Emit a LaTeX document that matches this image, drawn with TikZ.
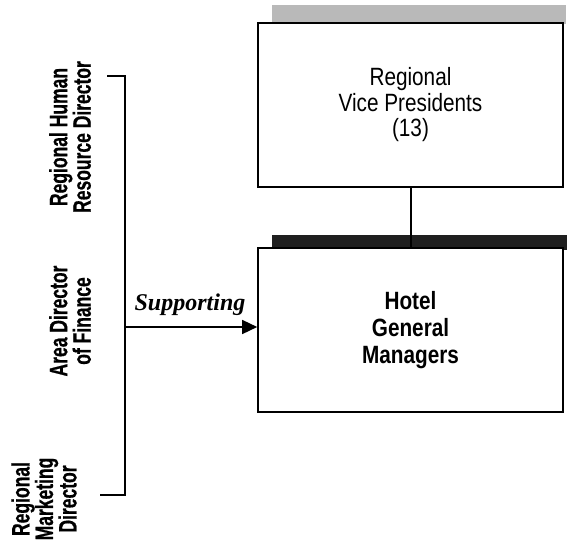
\documentclass[tikz,border=0pt]{standalone}
\usepackage{fontspec}
\setmainfont{Liberation Sans}
\newfontfamily\boxfont[FakeStretch=0.83]{Liberation Sans}
\newfontfamily\labelfont[FakeStretch=0.7,FakeBold=0.6]{Liberation Sans}
\newfontfamily\suppfont{Liberation Serif}
\usepackage{tikz}
\usetikzlibrary{calc}
\usetikzlibrary{arrows.meta}
\tikzset{
  orgbox/.style={draw, line width=1.6pt, fill=white, minimum width=305pt, minimum height=164pt, align=center, font=\boxfont\fontsize{25}{25.5}\selectfont},
  sidelabel/.style={rotate=90, align=center, inner sep=0, font=\labelfont\bfseries\fontsize{25}{23.5}\selectfont},
}

\begin{document}
\begin{tikzpicture}[x=1pt, y=-1pt]
    \useasboundingbox (0,0) rectangle (571,543);
    % shadow bands behind the boxes
    \fill[gray!55] (272,5) rectangle (566,24);
    \fill[black!88] (272,235) rectangle (567,250);
    \node[orgbox] (vp) at (410.5,105) {Regional\\Vice Presidents\\(13)};
    \node[orgbox, font=\boxfont\bfseries\fontsize{25}{27}\selectfont] (hgm) at (410.5,330) {Hotel\\General\\Managers};
    \draw[line width=2pt] (vp.south) -- (hgm.north);
    % supporting staff
    \node[sidelabel] (hr) at (70,137) {Regional Human\\Resource Director};
    \node[sidelabel] (fin) at (70,321) {Area Director\\of Finance};
    \node[sidelabel] (mkt) at (44,499) {Regional\\Marketing\\Director};
    \coordinate (top) at (125,76);
    \coordinate (bot) at (125,495);
    \coordinate (mid) at (125,327);
    \draw[line width=1.5pt] (107,76) -- (top) -- (bot) -- (100,495);
    \draw[line width=1.5pt, -{Triangle[length=15pt,width=14pt]}] (mid) -- (mid -| hgm.west);
    \node[font=\suppfont\bfseries\itshape\fontsize{24}{26}\selectfont] (supp) at (190,305) {Supporting};
\end{tikzpicture}
\end{document}
